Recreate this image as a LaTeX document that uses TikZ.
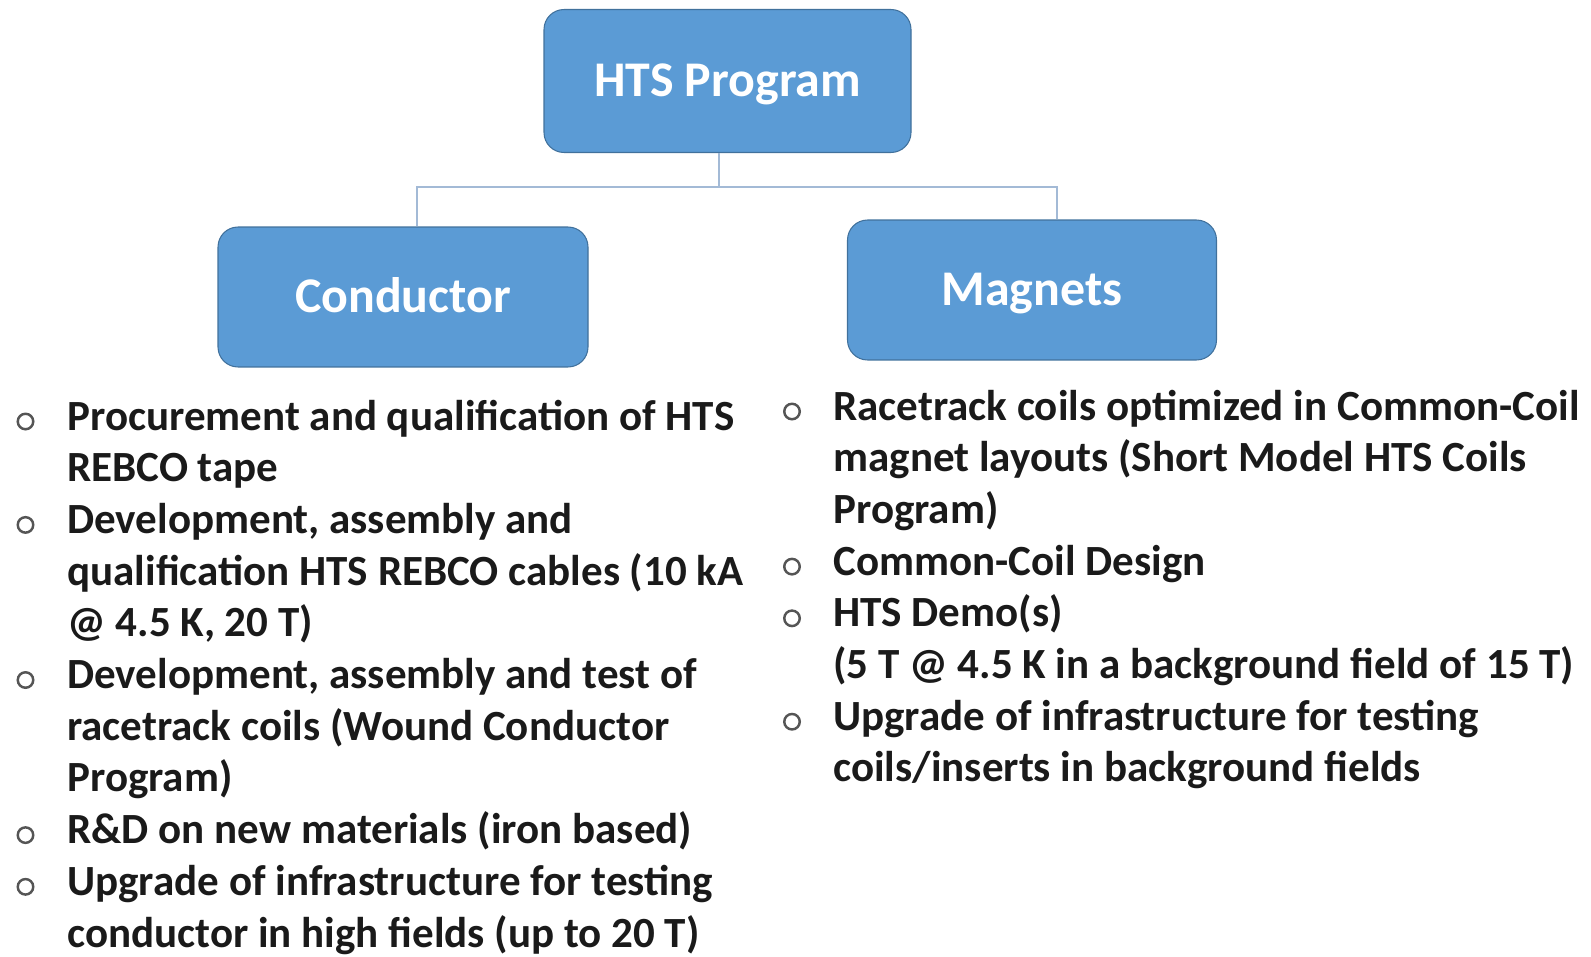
\documentclass[tikz,border=0pt]{standalone}
\usepackage{fontspec}
\setmainfont{Carlito}
\definecolor{boxfill}{HTML}{5B9BD5}
\definecolor{boxedge}{HTML}{41719C}
\definecolor{linkcol}{HTML}{A3BAD6}
\definecolor{itemtext}{HTML}{1A1A1A}
\definecolor{bulletcol}{HTML}{555555}
\tikzset{
  orgbox/.style={draw=boxedge, line width=0.6pt, fill=boxfill, rounded corners=0.4cm,
    minimum width=#1*0.02cm, minimum height=2.8cm, inner sep=0pt,
    text height=18.2pt, text depth=0pt,
    text=white, font=\fontsize{28.4}{32}\selectfont\bfseries},
  item/.style={anchor=base west, inner sep=0pt, align=left, text=itemtext,
    font=\fontsize{24.5}{29.42}\selectfont\bfseries},
  link/.style={draw=linkcol, line width=1.1pt},
  bul/.style={draw=bulletcol, line width=1.4pt, circle, minimum size=0.31cm, inner sep=0pt}
}
\begin{document}
\begin{tikzpicture}[x=0.02cm, y=-0.02cm]
\useasboundingbox (0,0) rectangle (1591,956);

% hierarchy boxes
\node[orgbox=367, minimum height=2.86cm] (hts) at (727.5,81) {HTS Program};
\node[orgbox=370] (cond) at (403,297) {Conductor};
\node[orgbox=369] (mag) at (1032,290) {Magnets};

% tree connectors
\coordinate (jt) at (719,187);
\coordinate (jl) at (417,187);
\coordinate (jr) at (1057,187);
\draw[link] (hts.south -| jt) -- (jt);
\draw[link] (cond.north -| jl) -- (jl) -- (jr) -- (mag.north -| jr);

% conductor activities (each node sits on the baseline of its last line)
\def\ls{51.7}
\node[item] (c1) at (67,430+\ls) {Procurement and qualification of HTS\\REBCO tape};
\node[item] (c2) at (67,533.4+2*\ls) {Development, assembly and\\qualification HTS REBCO cables (10 kA\\@ 4.5 K, 20 T)};
\node[item] (c3) at (67,688.5+2*\ls) {Development, assembly and test of\\racetrack coils (Wound Conductor\\Program)};
\node[item] (c4) at (67,843.6) {R\&D on new materials (iron based)};
\node[item] (c5) at (67,895.3+\ls) {Upgrade of infrastructure for testing\\conductor in high fields (up to 20 T)};

% magnet activities
\node[item] (m1) at (833,420+2*\ls) {Racetrack coils optimized in Common-Coil\\magnet layouts (Short Model HTS Coils\\Program)};
\node[item] (m2) at (833,575.1) {Common-Coil Design};
\node[item] (m3) at (833,626.8+\ls) {HTS Demo(s)\\(5 T @ 4.5 K in a background field of 15 T)};
\node[item] (m4) at (833,730.2+\ls) {Upgrade of infrastructure for testing\\coils/inserts in background fields};

% hollow bullets beside the first line of each item
\foreach \n/\y in {c1/430, c2/533.4, c3/688.5, c4/843.6, c5/895.3}
  \node[bul] (b\n) at (25.5,\y-8.5) {};
\foreach \n/\y in {m1/420, m2/575.1, m3/626.8, m4/730.2}
  \node[bul] (b\n) at (792,\y-8.5) {};
\end{tikzpicture}
\end{document}
